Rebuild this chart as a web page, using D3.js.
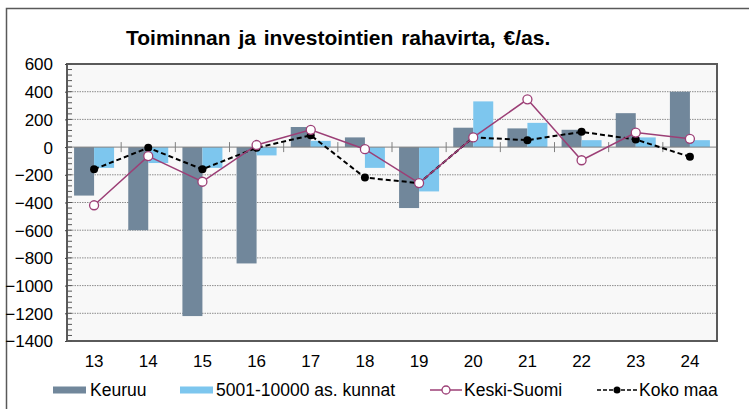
<!DOCTYPE html>
<html>
<head>
<meta charset="utf-8">
<script src="https://cdn.jsdelivr.net/npm/d3@7"></script>
<style>
  body { margin: 0; background: #fff; }
  text { font-family: "Liberation Sans", Arial, sans-serif; }
</style>
</head>
<body>
<div id="chart"></div>
<script>
// data
const years = ["13", "14", "15", "16", "17", "18", "19", "20", "21", "22", "23", "24"];
const keuruu = [-350, -600, -1220, -840, 145, 70, -440, 140, 135, 125, 245, 400];
const kunnat = [-150, -115, -150, -60, 45, -150, -320, 330, 175, 50, 70, 50];
const keskiSuomi = [-420, -65, -250, 15, 125, -15, -260, 70, 345, -95, 105, 60];
const kokoMaa = [-160, -5, -160, -5, 85, -220, -260, 70, 50, 110, 55, -70];
const yTicks = [600, 400, 200, 0, -200, -400, -600, -800, -1000, -1200, -1400];

const W = 749, H = 409;
const plot = { left: 67, right: 717, top: 64, bottom: 341 };

const svg = d3.select("#chart").append("svg")
    .attr("width", W)
    .attr("height", H);

// outer frame
svg.append("rect")
    .attr("x", 6.5).attr("y", 8.5)
    .attr("width", W + 10).attr("height", H + 10)
    .attr("fill", "#fff")
    .attr("stroke", "#595959")
    .attr("stroke-width", 1.5);

svg.append("text")
    .attr("x", 126).attr("y", 45)
    .attr("font-size", 21)
    .attr("font-weight", "bold")
    .attr("word-spacing", 2)
    .text("Toiminnan ja investointien rahavirta, €/as.");

const x = d3.scaleBand()
    .domain(years)
    .range([plot.left, plot.right]);

const y = d3.scaleLinear()
    .domain([-1400, 600])
    .range([plot.bottom, plot.top]);

// plot background
svg.append("rect")
    .attr("x", plot.left).attr("y", plot.top)
    .attr("width", plot.right - plot.left)
    .attr("height", plot.bottom - plot.top)
    .attr("fill", "#f8f8f8");

// gridlines
svg.append("g")
    .selectAll("line")
    .data(yTicks.filter(d => d !== 0 && d !== 600 && d !== -1400))
    .enter().append("line")
    .attr("x1", plot.left).attr("x2", plot.right)
    .attr("y1", d => y(d)).attr("y2", d => y(d))
    .attr("stroke", "#8c8c8c")
    .attr("stroke-width", 1)
    .attr("stroke-dasharray", "1.5,1");

// bars
const bw = 20;
const grp = svg.append("g");
grp.selectAll(".k")
    .data(keuruu)
    .enter().append("rect")
    .attr("x", (d, i) => x(years[i]) + x.bandwidth() / 2 - bw)
    .attr("y", d => y(Math.max(0, d)))
    .attr("width", bw)
    .attr("height", d => Math.abs(y(d) - y(0)))
    .attr("fill", "#71879b");
grp.selectAll(".b")
    .data(kunnat)
    .enter().append("rect")
    .attr("x", (d, i) => x(years[i]) + x.bandwidth() / 2)
    .attr("y", d => y(Math.max(0, d)))
    .attr("width", bw)
    .attr("height", d => Math.abs(y(d) - y(0)))
    .attr("fill", "#7dc6ee");

// zero line and category ticks
svg.append("line")
    .attr("x1", plot.left).attr("x2", plot.right)
    .attr("y1", y(0)).attr("y2", y(0))
    .attr("stroke", "#808080").attr("stroke-width", 1);
svg.append("g")
    .selectAll("line")
    .data(years.slice(1))
    .enter().append("line")
    .attr("x1", d => x(d)).attr("x2", d => x(d))
    .attr("y1", y(0) - 5).attr("y2", y(0) + 5)
    .attr("stroke", "#808080");

// lines
const cx = (d, i) => x(years[i]) + x.bandwidth() / 2;
const lineGen = d3.line().x(cx).y(d => y(d));

svg.append("path")
    .datum(kokoMaa)
    .attr("d", lineGen)
    .attr("fill", "none")
    .attr("stroke", "#000")
    .attr("stroke-width", 2)
    .attr("stroke-dasharray", "5,3");

svg.append("path")
    .datum(keskiSuomi)
    .attr("d", lineGen)
    .attr("fill", "none")
    .attr("stroke", "#9c3f76")
    .attr("stroke-width", 1.5);

svg.append("g")
    .selectAll("circle")
    .data(kokoMaa)
    .enter().append("circle")
    .attr("cx", cx).attr("cy", d => y(d))
    .attr("r", 4)
    .attr("fill", "#000");

svg.append("g")
    .selectAll("circle")
    .data(keskiSuomi)
    .enter().append("circle")
    .attr("cx", cx).attr("cy", d => y(d))
    .attr("r", 4.5)
    .attr("fill", "#fff")
    .attr("stroke", "#9c3f76")
    .attr("stroke-width", 1.3);

// plot border
svg.append("rect")
    .attr("x", plot.left).attr("y", plot.top)
    .attr("width", plot.right - plot.left)
    .attr("height", plot.bottom - plot.top)
    .attr("fill", "none")
    .attr("stroke", "#5a5a5a")
    .attr("stroke-width", 2);

// y axis
const yAxis = d3.axisLeft(y)
    .tickValues(yTicks)
    .tickSize(2)
    .tickPadding(12)
    .tickFormat(d3.format("d"));
const ya = svg.append("g")
    .attr("transform", `translate(${plot.left},0)`)
    .call(yAxis);
ya.select(".domain").remove();
ya.selectAll("line").attr("stroke", "#444");
ya.selectAll("text")
    .attr("font-size", 17)
    .attr("fill", "#000")
    .attr("font-family", "Liberation Sans, Arial, sans-serif")
    .attr("dy", "0.35em");

// minor ticks inside
svg.append("g")
    .selectAll("line")
    .data(d3.range(-1400, 601, 40))
    .enter().append("line")
    .attr("x1", plot.left).attr("x2", plot.left + 5)
    .attr("y1", d => y(d)).attr("y2", d => y(d))
    .attr("stroke", "#555");

// x labels
const xAxis = d3.axisBottom(x).tickSize(0).tickPadding(14);
const xa = svg.append("g")
    .attr("transform", `translate(0,${plot.bottom})`)
    .call(xAxis);
xa.select(".domain").remove();
xa.selectAll("text")
    .attr("font-size", 17)
    .attr("fill", "#000")
    .attr("font-family", "Liberation Sans, Arial, sans-serif");

// legend
const ly = 390;
const leg = svg.append("g").attr("font-size", 17.5);
leg.append("rect").attr("x", 53).attr("y", ly - 3.5).attr("width", 33).attr("height", 7).attr("fill", "#71879b");
leg.append("text").attr("x", 90).attr("y", ly).attr("dy", "0.35em").text("Keuruu");
leg.append("rect").attr("x", 180).attr("y", ly - 3.5).attr("width", 33).attr("height", 7).attr("fill", "#7dc6ee");
leg.append("text").attr("x", 216).attr("y", ly).attr("dy", "0.35em").text("5001-10000 as. kunnat");
leg.append("line").attr("x1", 430).attr("x2", 462).attr("y1", ly).attr("y2", ly)
    .attr("stroke", "#9c3f76").attr("stroke-width", 1.5);
leg.append("circle").attr("cx", 446).attr("cy", ly).attr("r", 4)
    .attr("fill", "#fff").attr("stroke", "#9c3f76").attr("stroke-width", 1.3);
leg.append("text").attr("x", 464).attr("y", ly).attr("dy", "0.35em").text("Keski-Suomi");
leg.append("line").attr("x1", 597).attr("x2", 637).attr("y1", ly).attr("y2", ly)
    .attr("stroke", "#000").attr("stroke-width", 1.5).attr("stroke-dasharray", "4,2");
leg.append("circle").attr("cx", 617).attr("cy", ly).attr("r", 3.5).attr("fill", "#000");
leg.append("text").attr("x", 639).attr("y", ly).attr("dy", "0.35em").text("Koko maa");
</script>
</body>
</html>
